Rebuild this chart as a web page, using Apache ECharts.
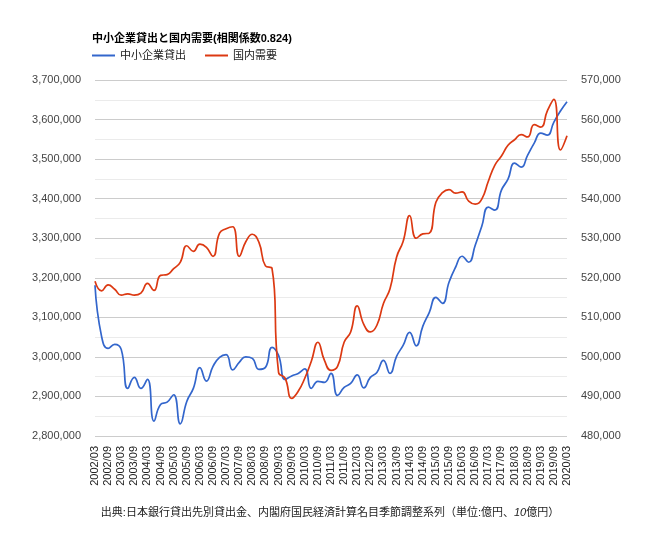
<!DOCTYPE html>
<html>
<head>
<meta charset="utf-8">
<script src="https://cdn.jsdelivr.net/npm/echarts@6/dist/echarts.min.js"></script>
<style>
html,body{margin:0;padding:0;background:#fff;}
#chart{width:660px;height:541px;}
</style>
</head>
<body>
<div id="chart"></div>
<script>
const titleText = '中小企業貸出と国内需要(相関係数0.824)';
const seriesNames = ['中小企業貸出', '国内需要'];
const sourceText = '出典:日本銀行貸出先別貸出金、内閣府国民経済計算名目季節調整系列（単位:億円、{i|10}億円）';

const categories = [
 '2002/03','2002/06','2002/09','2002/12','2003/03','2003/06','2003/09','2003/12',
 '2004/03','2004/06','2004/09','2004/12','2005/03','2005/06','2005/09','2005/12',
 '2006/03','2006/06','2006/09','2006/12','2007/03','2007/06','2007/09','2007/12',
 '2008/03','2008/06','2008/09','2008/12','2009/03','2009/06','2009/09','2009/12',
 '2010/03','2010/06','2010/09','2010/12','2011/03','2011/06','2011/09','2011/12',
 '2012/03','2012/06','2012/09','2012/12','2013/03','2013/06','2013/09','2013/12',
 '2014/03','2014/06','2014/09','2014/12','2015/03','2015/06','2015/09','2015/12',
 '2016/03','2016/06','2016/09','2016/12','2017/03','2017/06','2017/09','2017/12',
 '2018/03','2018/06','2018/09','2018/12','2019/03','2019/06','2019/09','2019/12',
 '2020/03'
];

// 中小企業貸出 (億円) - left axis
const smeLoans = [
 3181000,3052000,3021500,3031700,3019000,2920300,2948100,2920300,
 2943000,2837500,2879800,2885600,2904300,2830900,2887400,2920300,
 2972700,2938700,2976000,2998700,3005600,2967100,2986100,3000000,
 2996200,2968400,2973400,3024100,3003800,2943000,2951900,2958200,
 2969600,2920300,2938000,2935500,2958200,2902500,2922800,2932900,
 2954400,2921500,2948100,2960800,2991200,2958200,3001300,3029100,
 3062000,3027900,3077200,3112700,3150600,3135400,3188600,3226600,
 3254400,3239200,3282300,3330400,3378500,3370900,3421500,3449400,
 3489900,3479800,3510100,3540500,3565800,3560800,3593700,3621500,
 3645100
];

// 国内需要 (10億円) - right axis
const domesticDemand = [
 519100,516700,518200,517100,515600,515950,515600,516100,
 518600,516800,520600,520800,522300,523900,528100,526700,
 528500,527700,525400,531300,532400,532900,525400,529100,
 531000,529000,523000,522400,496100,494600,489500,491300,
 494600,498900,503700,499100,496600,497600,503700,506300,
 512900,508200,506300,508000,513500,517200,525200,529200,
 535700,530000,531100,531300,539100,541500,542300,541400,
 541700,539400,538600,539900,544400,548500,550800,553500,
 554900,556200,555600,558700,558100,562200,565100,552300,
 555900
];

const leftTicks = {min: 2800000, max: 3700000, interval: 100000};
const rightTicks = {min: 480000, max: 570000, interval: 10000};

const fmt = v => Number(v).toLocaleString('en-US');
const chart = echarts.init(document.getElementById('chart'), null, {renderer: 'canvas'});
const baseFont = 'Arial, "Liberation Sans", "Noto Sans CJK JP", sans-serif';

chart.setOption({
  animation: false,
  backgroundColor: '#ffffff',
  color: ['#3366cc', '#dc3912'],
  title: [
    {
      text: titleText,
      left: 92, top: 33, padding: 0,
      textStyle: {fontSize: 11, fontWeight: 'bold', color: '#000', fontFamily: baseFont}
    },
    {
      text: sourceText,
      left: 'center', top: 507, padding: 0,
      textStyle: {
        fontSize: 11, fontWeight: 'normal', color: '#222', fontFamily: baseFont,
        rich: {i: {fontSize: 11, fontStyle: 'italic', color: '#222', fontFamily: baseFont}}
      }
    }
  ],
  legend: {
    left: 92, top: 50, padding: 0,
    icon: 'rect',
    itemWidth: 23, itemHeight: 2,
    itemGap: 19,
    textStyle: {fontSize: 11, color: '#222', fontFamily: baseFont},
    data: seriesNames
  },
  grid: {left: 95, right: 93, top: 80, bottom: 105},
  xAxis: {
    type: 'category',
    data: categories,
    boundaryGap: false,
    axisLine: {show: false},
    axisTick: {show: false},
    splitLine: {show: false},
    axisLabel: {
      interval: 1, rotate: 90, margin: 10,
      fontSize: 11, color: '#222', fontFamily: baseFont
    }
  },
  yAxis: [
    {
      type: 'value',
      min: leftTicks.min, max: leftTicks.max, interval: leftTicks.interval,
      axisLine: {show: false}, axisTick: {show: false},
      axisLabel: {formatter: fmt, fontSize: 11, color: '#444', margin: 14, fontFamily: baseFont},
      splitLine: {show: true, lineStyle: {color: '#cccccc', width: 1}},
      minorTick: {show: false, splitNumber: 2},
      minorSplitLine: {show: true, lineStyle: {color: '#ebebeb', width: 1}}
    },
    {
      type: 'value',
      min: rightTicks.min, max: rightTicks.max, interval: rightTicks.interval,
      axisLine: {show: false}, axisTick: {show: false},
      axisLabel: {formatter: fmt, fontSize: 11, color: '#444', margin: 14, fontFamily: baseFont},
      splitLine: {show: false}
    }
  ],
  series: [
    {
      name: seriesNames[0], type: 'line', yAxisIndex: 0,
      data: smeLoans, smooth: 0.5, symbol: 'none',
      lineStyle: {width: 1.7, color: '#3366cc'}
    },
    {
      name: seriesNames[1], type: 'line', yAxisIndex: 1,
      data: domesticDemand, smooth: 0.5, symbol: 'none',
      lineStyle: {width: 1.7, color: '#dc3912'}
    }
  ]
});
</script>
</body>
</html>
